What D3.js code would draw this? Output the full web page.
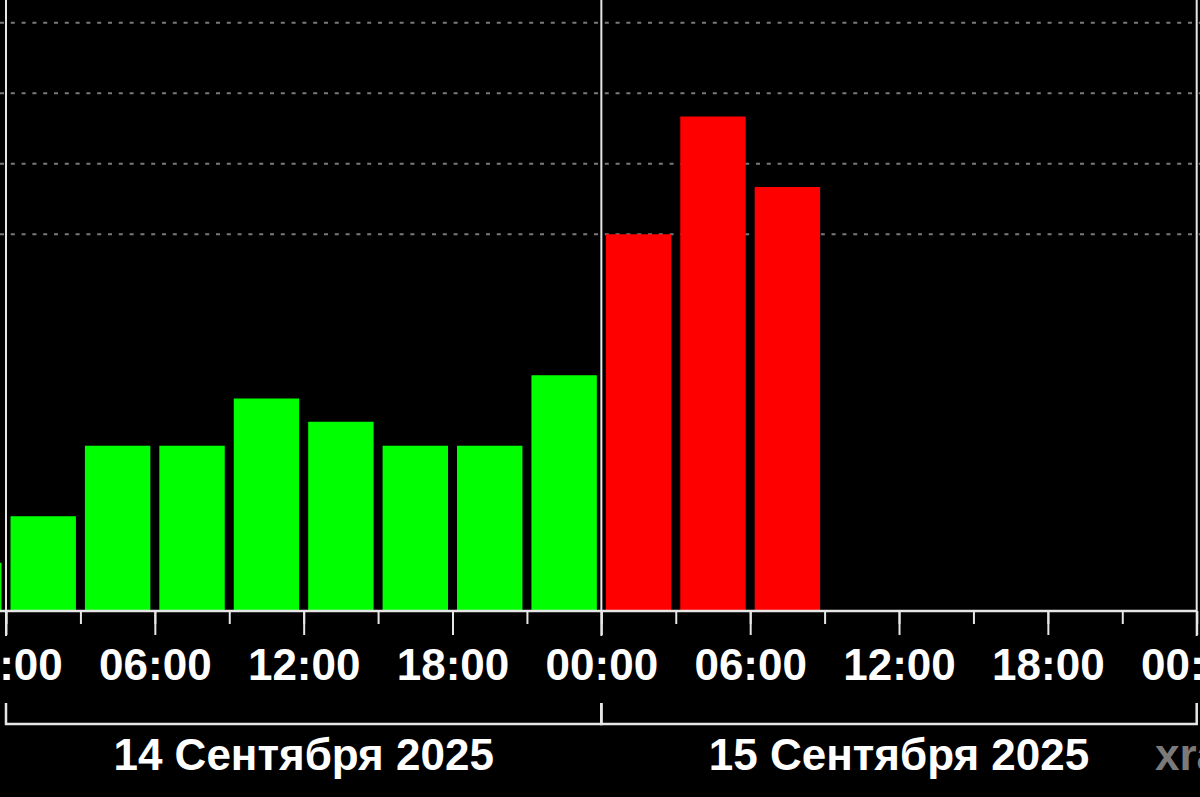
<!DOCTYPE html>
<html>
<head>
<meta charset="utf-8">
<script src="https://cdn.jsdelivr.net/npm/d3@7"></script>
<style>
  html, body { margin: 0; padding: 0; background: #000; overflow: hidden; }
  svg { display: block; }
</style>
</head>
<body>
<div id="chart"></div>
<script>
// 3-hour Kp slots (start time, UTC) and their values
const slotStarts = [
  "2025-09-13T21:00Z",
  "2025-09-14T00:00Z", "2025-09-14T03:00Z", "2025-09-14T06:00Z", "2025-09-14T09:00Z",
  "2025-09-14T12:00Z", "2025-09-14T15:00Z", "2025-09-14T18:00Z", "2025-09-14T21:00Z",
  "2025-09-15T00:00Z", "2025-09-15T03:00Z", "2025-09-15T06:00Z"
];
const kpValues = [0.67, 1.33, 2.33, 2.33, 3.00, 2.67, 2.33, 2.33, 3.33, 5.33, 7.00, 6.00];

// dashed grid levels
const gridLevels = [5.33, 6.33, 7.33, 8.33];

// day brackets under the time axis
const days = ["2025-09-14T00:00Z", "2025-09-15T00:00Z"];
const dayLabels = ["14 Сентября 2025", "15 Сентября 2025"];
const watermark = "xras.ru";

(function() {
  const width = 1200, height = 797;
  const baseY = 611;          // y of the time axis line
  const slotMs = 3 * 3600e3;

  const data = slotStarts.map((s, i) => ({
    start: new Date(s),
    end: new Date(+new Date(s) + slotMs),
    kp: kpValues[i]
  }));

  const svg = d3.select("#chart")
    .append("svg")
    .attr("width", width)
    .attr("height", height)
    .style("background", "#000");

  // x: two days across the picture
  const x = d3.scaleUtc()
    .domain([new Date("2025-09-14T00:00Z"), new Date("2025-09-16T00:00Z")])
    .range([6, 1196.7]);

  // y: Kp 0..9, one unit per ~70.5 px
  const y = d3.scaleLinear()
    .domain([0, 9])
    .range([baseY - 1, baseY - 1 - 9 * 70.5]);

  const color = d3.scaleThreshold()
    .domain([4, 5])
    .range(["#00ff00", "#ffff00", "#ff0000"]);

  // grid lines
  svg.append("g")
    .selectAll("line")
    .data(gridLevels)
    .enter().append("line")
    .attr("x1", 0)
    .attr("x2", width)
    .attr("y1", d => y(d))
    .attr("y2", d => y(d))
    .attr("stroke", "#7a7a7a")
    .attr("stroke-width", 2)
    .attr("stroke-dasharray", "4,6.8");

  // bars
  const inset = 4.5;
  svg.append("g")
    .selectAll("rect")
    .data(data)
    .enter().append("rect")
    .attr("x", d => x(d.start) + inset)
    .attr("width", d => x(d.end) - x(d.start) - 2 * inset)
    .attr("y", d => y(d.kp))
    .attr("height", d => y(0) - y(d.kp))
    .attr("fill", d => color(d.kp));

  // minor ticks every 3h
  const minorAxis = d3.axisBottom(x)
    .ticks(d3.utcHour.every(3))
    .tickSize(13)
    .tickFormat("");
  const gMinor = svg.append("g")
    .attr("transform", `translate(0,${baseY})`)
    .call(minorAxis);
  gMinor.select(".domain").remove();
  gMinor.selectAll("line").attr("stroke", "#e6e6e6").attr("stroke-width", 2);

  // major ticks every 6h with labels
  const majorAxis = d3.axisBottom(x)
    .ticks(d3.utcHour.every(6))
    .tickSize(24)
    .tickFormat(d3.utcFormat("%H:%M"));
  const gMajor = svg.append("g")
    .attr("transform", `translate(0,${baseY})`)
    .call(majorAxis);
  gMajor.select(".domain").remove();
  gMajor.selectAll("line").attr("stroke", "#e6e6e6").attr("stroke-width", 2);
  gMajor.selectAll("text")
    .attr("y", 69)
    .attr("dy", 0)
    .attr("fill", "#fff")
    .attr("font-family", "'Liberation Sans', Arial, sans-serif")
    .attr("font-weight", "bold")
    .attr("font-size", 44);

  // axis base line
  svg.append("line")
    .attr("x1", 0)
    .attr("x2", x.range()[1])
    .attr("y1", baseY)
    .attr("y2", baseY)
    .attr("stroke", "#e6e6e6")
    .attr("stroke-width", 2.5);

  // day separators run the full plot height
  const dayEdges = days.map(d => new Date(d)).concat([new Date("2025-09-16T00:00Z")]);
  svg.append("g")
    .selectAll("line")
    .data(dayEdges)
    .enter().append("line")
    .attr("x1", d => x(d))
    .attr("x2", d => x(d))
    .attr("y1", 0)
    .attr("y2", baseY + 25)
    .attr("stroke", "#e6e6e6")
    .attr("stroke-width", 2);

  // day brackets and labels
  const dayG = svg.append("g");
  days.forEach((d, i) => {
    const s = new Date(d);
    const e = d3.utcDay.offset(s, 1);
    dayG.append("path")
      .attr("d", `M${x(s)},703V724H${x(e)}V703`)
      .attr("fill", "none")
      .attr("stroke", "#e6e6e6")
      .attr("stroke-width", 2.5);
    dayG.append("text")
      .attr("x", x(d3.utcHour.offset(s, 12)))
      .attr("y", 770)
      .attr("text-anchor", "middle")
      .attr("fill", "#fff")
      .attr("font-family", "'Liberation Sans', Arial, sans-serif")
      .attr("font-weight", "bold")
      .attr("font-size", 44)
      .text(dayLabels[i]);
  });

  // source watermark, clipped by the right edge
  svg.append("text")
    .attr("x", 1155)
    .attr("y", 770)
    .attr("fill", "#7a7a7a")
    .attr("font-family", "'Liberation Sans', Arial, sans-serif")
    .attr("font-weight", "bold")
    .attr("font-size", 44)
    .text(watermark);
})();
</script>
</body>
</html>
